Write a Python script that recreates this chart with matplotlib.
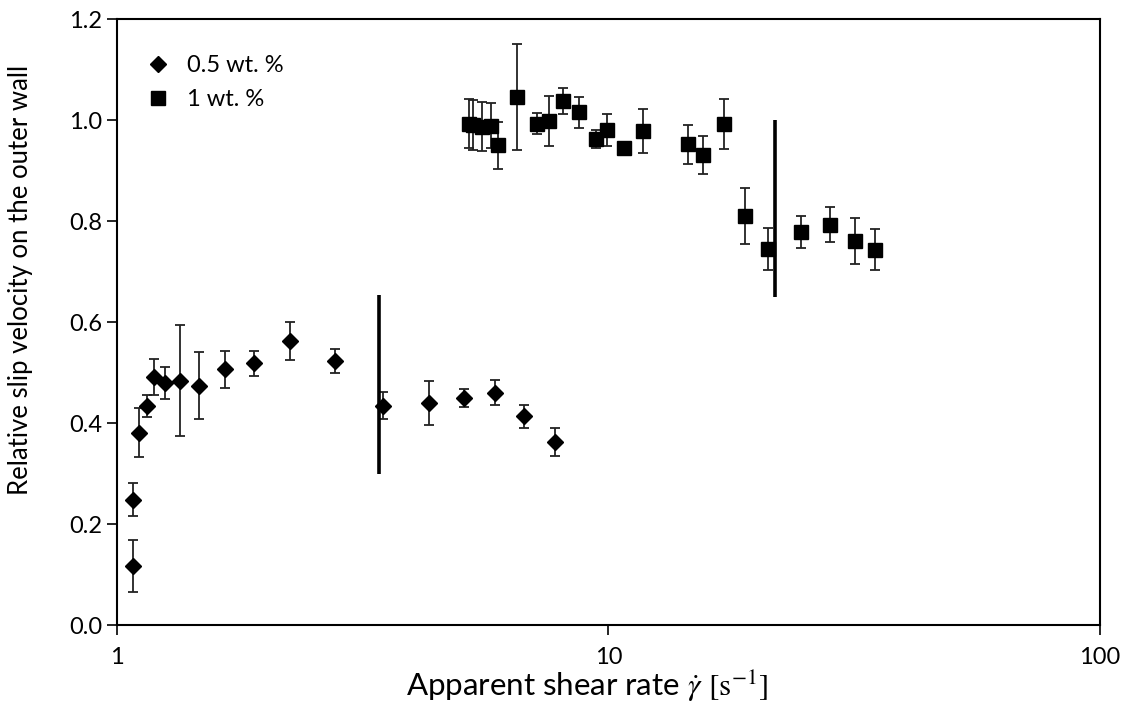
import numpy as np
import matplotlib.pyplot as plt
from matplotlib.lines import Line2D
from matplotlib.ticker import FixedLocator, NullLocator, FixedFormatter

plt.rcParams['font.family'] = ['Lato', 'DejaVu Sans']
plt.rcParams['mathtext.fontset'] = 'stix'

# 0.5 wt. %
x_05 = [1.076, 1.079, 1.109, 1.149, 1.189, 1.252, 1.343, 1.471, 1.661, 1.903,
        2.245, 2.773, 3.483, 4.313, 5.09, 5.87, 6.72, 7.77]
y_05 = [0.117, 0.248, 0.381, 0.434, 0.491, 0.479, 0.484, 0.474, 0.506, 0.518,
        0.563, 0.523, 0.434, 0.440, 0.450, 0.460, 0.413, 0.362]
e_05 = [0.051, 0.033, 0.049, 0.022, 0.035, 0.031, 0.110, 0.067, 0.036, 0.025,
        0.038, 0.023, 0.027, 0.044, 0.018, 0.025, 0.023, 0.028]

# 1 wt. %
x_1 = [5.21, 5.31, 5.53, 5.76, 5.97, 6.52, 7.14, 7.58, 8.07, 8.71,
       9.43, 9.92, 10.77, 11.77, 14.51, 15.57, 17.18, 18.96, 21.14, 24.65,
       28.23, 31.73, 34.85]
y_1 = [0.993, 0.990, 0.987, 0.989, 0.950, 1.045, 0.993, 0.998, 1.038, 1.015,
       0.963, 0.980, 0.944, 0.978, 0.952, 0.931, 0.992, 0.810, 0.745, 0.778,
       0.793, 0.760, 0.743]
e_1 = [0.049, 0.050, 0.048, 0.045, 0.047, 0.105, 0.020, 0.050, 0.026, 0.031,
       0.018, 0.032, 0.0, 0.043, 0.039, 0.038, 0.049, 0.055, 0.042, 0.032,
       0.034, 0.046, 0.041]

# transition markers (x, y_low, y_high)
trans_05 = [3.408, 0.299, 0.654]
trans_1 = [21.82, 0.650, 1.000]

fig = plt.figure(figsize=(11.28, 7.04), dpi=100)
ax = fig.add_axes([0.1037, 0.1122, 0.8715, 0.8608])

ax.errorbar(x_05, y_05, yerr=e_05, fmt='D', ms=8.5, color='black',
            ecolor='#222222', elinewidth=1.3, capsize=3.5, capthick=1.3,
            zorder=3)
ax.errorbar(x_1, y_1, yerr=e_1, fmt='s', ms=10, color='black',
            ecolor='#222222', elinewidth=1.3, capsize=3.5, capthick=1.3,
            zorder=3)

ax.vlines(trans_05[0], trans_05[1], trans_05[2], color='black', lw=2.6, zorder=4)
ax.vlines(trans_1[0], trans_1[1], trans_1[2], color='black', lw=2.6, zorder=4)

ax.set_xscale('log')
ax.set_xlim(1, 100)
ax.set_ylim(0, 1.2)
ax.xaxis.set_major_locator(FixedLocator([1, 10, 100]))
ax.xaxis.set_major_formatter(FixedFormatter(['1', '10', '100']))
ax.xaxis.set_minor_locator(NullLocator())
ax.set_yticks(np.arange(0, 1.21, 0.2))
ax.set_yticklabels(['%.1f' % v for v in np.arange(0, 1.21, 0.2)])

ax.tick_params(axis='both', direction='out', length=7, width=1.2,
               labelsize=17, colors='black')
ax.tick_params(axis='x', pad=9)
for sp in ax.spines.values():
    sp.set_linewidth(1.5)
    sp.set_color('black')

ax.set_xlabel(r'Apparent shear rate $\dot{\gamma}$ $[\mathrm{s}^{-1}]$', fontsize=22.5)
ax.xaxis.set_label_coords(0.478, -0.072)
ax.set_ylabel('Relative slip velocity on the outer wall', fontsize=18.5)
ax.yaxis.set_label_coords(-0.0855, 0.569)

handles = [Line2D([], [], ls='none', marker='D', ms=8.5, color='black'),
           Line2D([], [], ls='none', marker='s', ms=10, color='black')]
ax.legend(handles, ['0.5 wt. %', '1 wt. %'], loc='upper left', frameon=False,
          fontsize=17, bbox_to_anchor=(0.0295, 0.94), borderaxespad=0,
          borderpad=0, handlelength=1.0, handletextpad=0.75, labelspacing=0.55)

fig.savefig('out.png', dpi=100)
